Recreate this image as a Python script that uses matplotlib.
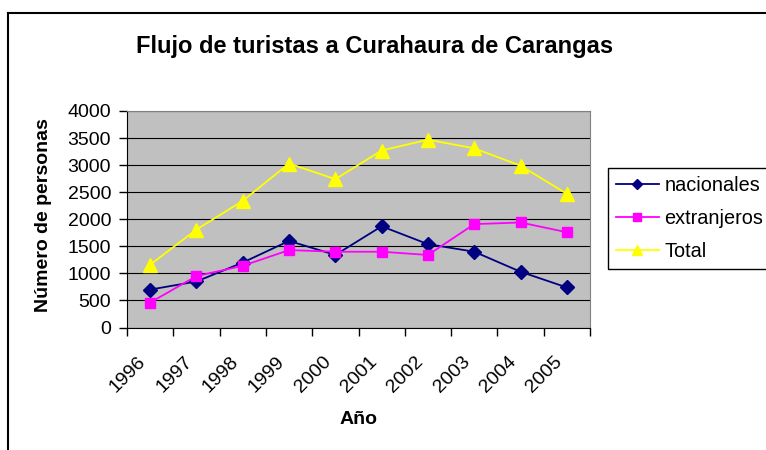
import numpy as np
import matplotlib.pyplot as plt
import matplotlib.transforms as mtransforms
from matplotlib.lines import Line2D

plt.rcParams['font.family'] = ['Liberation Sans', 'DejaVu Sans']

years = ['1996', '1997', '1998', '1999', '2000', '2001', '2002', '2003', '2004', '2005']
nacionales = [700, 850, 1200, 1600, 1340, 1870, 1540, 1400, 1030, 740]
extranjeros = [460, 950, 1140, 1430, 1400, 1400, 1340, 1910, 1940, 1760]
total = [1160, 1810, 2340, 3030, 2740, 3270, 3470, 3310, 2990, 2470]

W, H = 766, 450
fig = plt.figure(figsize=(W / 100, H / 100), dpi=100)
ax = fig.add_axes([127 / W, 1 - 327.5 / H, 463 / W, 216.5 / H])

x = np.arange(len(years))
ax.plot(x, nacionales, color='#000080', marker='D', markersize=7, lw=1.3,
        label='nacionales')
ax.plot(x, extranjeros, color='#FF00FF', marker='s', markersize=7.5, lw=1.3,
        label='extranjeros')
ax.plot(x, total, color='#FFFF00', marker='^', markersize=9.5, lw=1.3,
        label='Total')

ax.set_facecolor('#C0C0C0')
ax.set_xlim(-0.5, len(years) - 0.5)
ax.set_ylim(0, 4000)
ax.set_yticks(range(0, 4001, 500))
ax.yaxis.grid(True, color='black', lw=0.8)
ax.set_axisbelow(True)

# category boundaries carry the tick marks, labels sit at the centres
ax.set_xticks(np.arange(-0.5, len(years)), labels=[])
ax.set_xticks(x, minor=True)
ax.set_xticklabels(years, minor=True, rotation=45, ha='right', va='center',
                   rotation_mode='anchor')
ax.tick_params(axis='x', which='minor', length=0, pad=23, labelsize=14)
ax.tick_params(axis='x', which='major', length=5.5, width=1, direction='out')
ax.tick_params(axis='y', length=5.5, width=1, direction='out', labelsize=14, pad=6)
shift = mtransforms.ScaledTranslation(-0.07, 0, fig.dpi_scale_trans)
for lbl in ax.get_xticklabels(minor=True):
    lbl.set_transform(lbl.get_transform() + shift)

for side in ['top', 'right']:
    ax.spines[side].set_color('#808080')
for side in ['left', 'bottom']:
    ax.spines[side].set_color('black')

ax.set_ylabel('Número de personas', fontsize=14, fontweight='bold', va='center')
ax.yaxis.set_label_coords(-0.18, 0.52)
ax.set_xlabel('Año', fontsize=14, fontweight='bold', va='center')
ax.xaxis.set_label_coords(0.5, -0.425)
fig.text(375 / W, 1 - 47 / H, 'Flujo de turistas a Curahaura de Carangas',
         fontsize=17, fontweight='bold', ha='center', va='center')

# legend frame runs past the right edge of the figure
leg = ax.legend(loc='upper left', bbox_to_anchor=(608 / W, 1 - 168 / H),
                bbox_transform=fig.transFigure, fontsize=14.3, frameon=True,
                fancybox=False, edgecolor='black', framealpha=1,
                handlelength=2.2, handletextpad=0.25, labelspacing=0.72,
                borderpad=0.38, borderaxespad=0, markerscale=0.8)
leg.get_frame().set_linewidth(1.0)

# outer chart border
bx, by = 8 / W, 1 - 13 / H
fig.add_artist(Line2D([bx, bx], [0, by], color='black', lw=1.5))
fig.add_artist(Line2D([bx, 1], [by, by], color='black', lw=1.5))

fig.savefig('out.png', dpi=100)
